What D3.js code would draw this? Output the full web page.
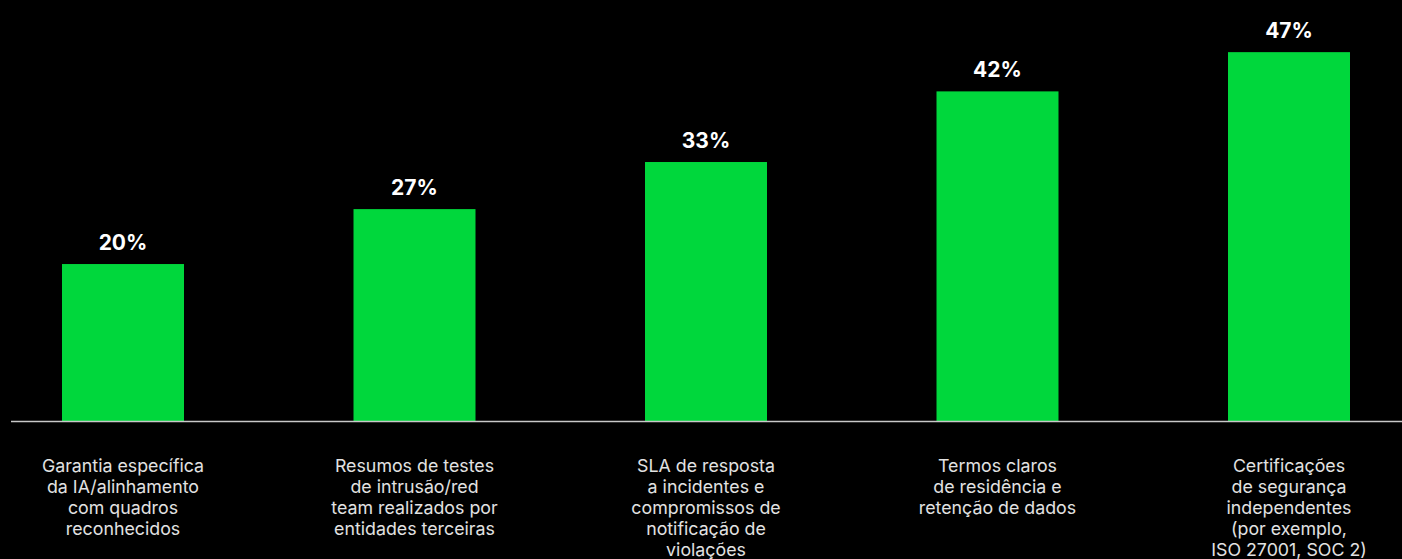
<!DOCTYPE html>
<html>
<head>
<meta charset="utf-8">
<script src="https://cdn.jsdelivr.net/npm/d3@7"></script>
<style>
  html, body { margin: 0; padding: 0; background: #000; }
  svg { display: block; }
</style>
</head>
<body>
<svg id="chart" width="1402" height="559"></svg>
<script>
// Category labels, one entry per wrapped line
const categories = [
  ["Garantia específica", "da IA/alinhamento", "com quadros", "reconhecidos"],
  ["Resumos de testes", "de intrusão/red", "team realizados por", "entidades terceiras"],
  ["SLA de resposta", "a incidentes e", "compromissos de", "notificação de", "violações"],
  ["Termos claros", "de residência e", "retenção de dados"],
  ["Certificações", "de segurança", "independentes", "(por exemplo,", "ISO 27001, SOC 2)"]
];
const values = [20, 27, 33, 42, 47];

const width = 1402, height = 559;
const baseline = 421;

const svg = d3.select("#chart");
svg.append("rect").attr("width", width).attr("height", height).attr("fill", "#000");

const ids = categories.map((_, i) => i);
const x = d3.scaleBand()
  .domain(ids)
  .range([-22.75, 1434.75])
  .paddingInner(0.5815)
  .paddingOuter(0.29075);

const y = d3.scaleLinear()
  .domain([0, 50])
  .range([baseline, baseline - 392.4]);

// Bars
svg.append("g").selectAll("rect")
  .data(values)
  .join("rect")
  .attr("x", (d, i) => x(i))
  .attr("y", d => y(d))
  .attr("width", x.bandwidth())
  .attr("height", d => y(0) - y(d))
  .attr("fill", "#00d73c");

// Baseline
svg.append("line")
  .attr("x1", 11).attr("x2", width)
  .attr("y1", baseline + 0.5).attr("y2", baseline + 0.5)
  .attr("stroke", "#c8c8c8")
  .attr("stroke-width", 1.5);

// Value labels
svg.append("g").selectAll("text")
  .data(values)
  .join("text")
  .attr("x", (d, i) => x(i) + x.bandwidth() / 2)
  .attr("y", d => y(d) - 14)
  .attr("text-anchor", "middle")
  .attr("fill", "#ffffff")
  .attr("font-family", "Inter, 'Noto Sans', sans-serif")
  .attr("font-weight", 700)
  .attr("font-size", 21)
  .text(d => d + "%");

// Category labels
const lab = svg.append("g").selectAll("text")
  .data(categories)
  .join("text")
  .attr("x", (d, i) => x(i) + x.bandwidth() / 2)
  .attr("y", 472)
  .attr("text-anchor", "middle")
  .attr("fill", "#e2e2e2")
  .attr("font-family", "Inter, 'Noto Sans', sans-serif")
  .attr("font-size", 17.8);

lab.selectAll("tspan")
  .data(d => d)
  .join("tspan")
  .attr("x", function () { return d3.select(this.parentNode).attr("x"); })
  .attr("dy", (d, j) => j === 0 ? 0 : 21)
  .text(d => d);
</script>
</body>
</html>
